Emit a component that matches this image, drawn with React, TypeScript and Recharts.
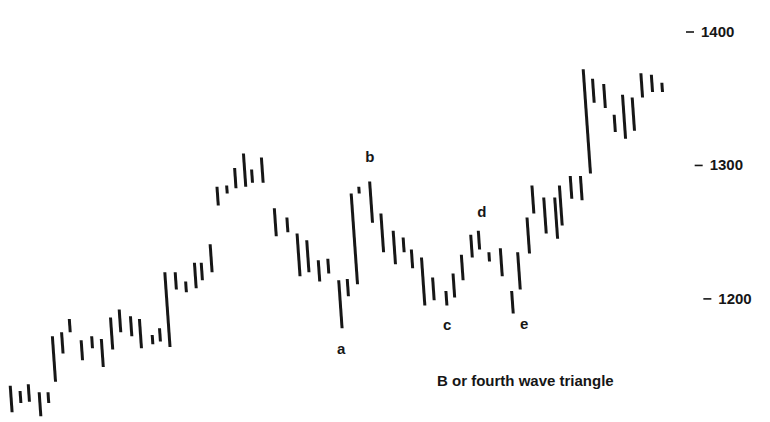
import { Bar, ComposedChart, Scatter, XAxis, YAxis } from "recharts"

// trading sessions (position along the time axis), with each day's high and low
const sessions = [
    0, 1.0, 1.9, 3.1, 4.0, 4.6, 5.5, 6.3, 7.6, 8.7,
    9.8, 10.8, 11.7, 12.9, 13.9, 15.2, 16.0, 16.8, 17.7, 18.8,
    19.8, 20.5, 21.5, 22.2, 23.2, 24.1, 25.1, 25.9, 27.0, 28.4,
    29.7, 30.9, 31.9, 33.1, 34.1, 35.4, 36.2, 36.9, 37.4, 38.7,
    39.9, 41.2, 42.2, 43.1, 44.3, 45.4, 46.8, 47.6, 48.5, 49.5,
    50.3, 51.4, 52.7, 53.9, 54.6, 55.6, 56.1, 57.4, 58.6, 59.1,
    60.2, 61.3, 61.9, 62.6, 63.8, 64.9, 65.9, 66.9, 67.8, 68.9,
    70.0,
]
const highs = [
    1135, 1131, 1136, 1130, 1130, 1172, 1175, 1185, 1169, 1172,
    1170, 1186, 1192, 1187, 1185, 1173, 1178, 1220, 1220, 1213,
    1227, 1227, 1241, 1284, 1285, 1298, 1309, 1297, 1306, 1268,
    1261, 1249, 1244, 1229, 1230, 1214, 1215, 1279, 1284, 1288,
    1264, 1251, 1246, 1237, 1231, 1216, 1206, 1219, 1233, 1248,
    1251, 1235, 1238, 1206, 1235, 1261, 1285, 1276, 1276, 1285,
    1292, 1292, 1372, 1365, 1361, 1338, 1353, 1351, 1369, 1368,
    1362,
]
const lows = [
    1115, 1122, 1123, 1112, 1122, 1138, 1159, 1175, 1154, 1163,
    1149, 1162, 1175, 1172, 1163, 1166, 1168, 1164, 1207, 1205,
    1208, 1214, 1220, 1270, 1279, 1283, 1284, 1287, 1287, 1247,
    1250, 1217, 1220, 1213, 1219, 1178, 1202, 1211, 1279, 1257,
    1235, 1226, 1235, 1223, 1195, 1199, 1195, 1201, 1214, 1231,
    1237, 1228, 1217, 1189, 1207, 1234, 1264, 1249, 1245, 1255,
    1275, 1274, 1294, 1347, 1343, 1325, 1320, 1326, 1351, 1355,
    1355,
]
const priceTicks = [1200, 1300, 1400]

// triangle wave labels, the bar each one marks, and whether it sits on the high or low
const waveNames = ['a', 'b', 'c', 'd', 'e']
const waveBars = [35, 39, 46, 50, 53]
const waveSides = ['low', 'high', 'low', 'high', 'low']
const caption = 'B or fourth wave triangle'

const data = sessions.map((t, i) => ({ t, range: [lows[i], highs[i]] }))
const waveData = waveNames.map((name, k) => {
    const i = waveBars[k]
    return { t: sessions[i], price: waveSides[k] === 'low' ? lows[i] : highs[i], name }
})

const font = '"Liberation Sans", Arial, sans-serif'
const ink = '#161616'
// text offsets of the letters from the bar end they mark
const letterOffset: Record<string, [number, number]> = {
    a: [1, 26], b: [-1, -19], c: [1, 24], d: [3, -14], e: [12, 15],
}

// the scan is slightly rotated, so the bars lean a little
function SlantBar(props: any) {
    const { x, y, width, height } = props
    if (height == null || isNaN(height)) return null
    const s = height * 0.035
    return (
        <polygon
            points={`${x - s},${y} ${x + width - s},${y} ${x + width + s},${y + height} ${x + s},${y + height}`}
            fill={ink}
        />
    )
}

function PriceTick(props: any) {
    const { x, y, payload } = props
    const shift = (y - 32) * 0.065
    return (
        <g>
            <line x1={x + 24 + shift} x2={x + 32 + shift} y1={y} y2={y} stroke={ink} strokeWidth={1.6} />
            <text x={x + 39 + shift} y={y + 5} fill={ink} fontSize={15} fontWeight="bold" fontFamily={font}>
                {payload.value}
            </text>
        </g>
    )
}

function WaveLetter(props: any) {
    const { cx, cy, payload } = props
    const [dx, dy] = letterOffset[payload.name]
    return (
        <text x={cx + dx} y={cy + dy} textAnchor="middle" fill={ink} fontSize={15} fontWeight="bold" fontFamily={font}>
            {payload.name}
        </text>
    )
}

export default function App() {
    return (
        <div style={{ position: 'absolute', left: 0, top: 0, width: 770, height: 422, background: '#fff' }}>
            <ComposedChart width={770} height={422} data={data}
                margin={{ top: 32, right: 0, bottom: 3, left: 11 }}>
                <XAxis type="number" dataKey="t" domain={[0, 70]} hide />
                <YAxis orientation="right" width={108} domain={[1110, 1400]} ticks={priceTicks}
                    interval={0} axisLine={false} tickLine={false} tickSize={0} tickMargin={0}
                    allowDataOverflow tick={<PriceTick />} />
                <Bar dataKey="range" barSize={3} shape={<SlantBar />} isAnimationActive={false} />
                <Scatter data={waveData} dataKey="price" shape={<WaveLetter />} isAnimationActive={false} />
            </ComposedChart>
            <div style={{
                position: 'absolute', left: 437, top: 372, lineHeight: '18px',
                fontFamily: font, fontWeight: 'bold', fontSize: 15, color: ink, whiteSpace: 'nowrap',
            }}>
                {caption}
            </div>
        </div>
    )
}
